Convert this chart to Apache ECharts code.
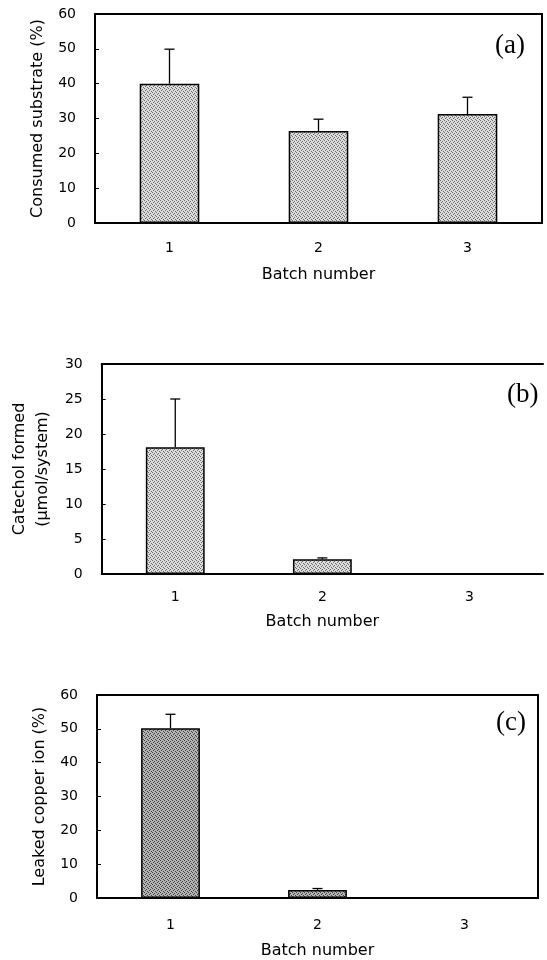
<!DOCTYPE html>
<html>
<head>
<meta charset="utf-8">
<script src="https://cdn.jsdelivr.net/npm/echarts@6/dist/echarts.min.js"></script>
<style>
html,body{margin:0;padding:0;background:#fff;}
#chart{width:547px;height:960px;}
</style>
</head>
<body>
<div id="chart"></div>
<script>
// ---- data ----
const categories = ['1', '2', '3'];
const consumedMean = [40.0, 26.4, 31.3];
const consumedUpper = [49.9, 29.8, 36.1];
const catecholMean = [18.1, 2.1, 0];
const catecholUpper = [25.0, 2.3, null];
const copperMean = [50.2, 2.4, 0];
const copperUpper = [54.3, 2.8, null];
const yMaxA = 60, yStepA = 10;
const yMaxB = 30, yStepB = 5;
const yMaxC = 60, yStepC = 10;

function makePattern(bg, dot) {
  const c = document.createElement('canvas');
  c.width = 4; c.height = 4;
  const g = c.getContext('2d');
  g.fillStyle = bg; g.fillRect(0, 0, 4, 4);
  g.fillStyle = dot;
  g.fillRect(0, 0, 1, 1); g.fillRect(2, 1, 1, 1);
  g.fillRect(1, 2, 1, 1); g.fillRect(3, 3, 1, 1);
  return { image: c, repeat: 'repeat' };
}
const lightFill = makePattern('#dcdcdc', '#6a6a6a');
const darkFill = makePattern('#b4b4b4', '#404040');

const font = 'DejaVu Sans';
const grids = [
  { left: 95, top: 14, width: 447, height: 209 },
  { left: 96, top: 364, width: 447, height: 210 },
  { left: 97, top: 695, width: 441, height: 204 }
];

function xAxes(gi, labelMargin, nameGap) {
  return [{
    type: 'category', gridIndex: gi, data: categories,
    axisLine: { onZero: false, lineStyle: { color: '#000', width: 2 } },
    axisTick: { show: false },
    axisLabel: { color: '#000', fontFamily: font, fontSize: 14, margin: labelMargin },
    name: 'Batch number', nameLocation: 'middle', nameGap: nameGap,
    nameTextStyle: { color: '#000', fontFamily: font, fontSize: 16 }
  }, {
    type: 'category', gridIndex: gi, data: categories, position: 'top',
    axisLine: { show: true, onZero: false, lineStyle: { color: '#000', width: 2 } },
    axisTick: { show: false }, axisLabel: { show: false }
  }];
}
function yAxes(gi, max, step, name, nameGap, rightBorder, lh) {
  const axes = [{
    type: 'value', gridIndex: gi, min: 0, max: max, interval: step,
    axisLine: { show: true, onZero: false, lineStyle: { color: '#000', width: 2 } },
    axisTick: { show: true, inside: true, length: 4, lineStyle: { color: '#000', width: 1 } },
    splitLine: { show: false },
    axisLabel: { color: '#000', fontFamily: font, fontSize: 14, margin: 19 },
    name: name, nameLocation: 'middle', nameGap: nameGap,
    nameTextStyle: { color: '#000', fontFamily: font, fontSize: 16, lineHeight: lh || 19 }
  }];
  if (rightBorder) {
    axes.push({
      type: 'value', gridIndex: gi, min: 0, max: max, interval: step, position: 'right',
      axisLine: { show: true, onZero: false, lineStyle: { color: '#000', width: 2 } },
      axisTick: { show: false }, axisLabel: { show: false }, splitLine: { show: false }
    });
  }
  return axes;
}

const xAxis = [].concat(xAxes(0, 18, 44), xAxes(1, 16, 40), xAxes(2, 20, 45));
const yA = yAxes(0, yMaxA, yStepA, 'Consumed substrate (%)', 46, true);
const yB = yAxes(1, yMaxB, yStepB, 'Catechol formed\n(\u03bcmol/system)', 46, false, 23);
const yC = yAxes(2, yMaxC, yStepC, 'Leaked copper ion (%)', 46, true);
const yAxis = [].concat(yA, yB, yC);
// yAxis indices: grid0 -> 0 (1 right), grid1 -> 2, grid2 -> 3 (4 right)
const yIdx = [0, 2, 3];
const xIdx = [0, 2, 4];

function barSeries(gi, data, fill) {
  return {
    type: 'bar', xAxisIndex: xIdx[gi], yAxisIndex: yIdx[gi], data: data,
    barWidth: '40%', silent: true,
    itemStyle: { color: fill, borderColor: '#000', borderWidth: 1.5 }
  };
}
function errSeries(gi, mean, upper) {
  return {
    type: 'custom', xAxisIndex: xIdx[gi], yAxisIndex: yIdx[gi], silent: true, z: 1,
    data: categories.map((c, i) => [i, mean[i], upper[i] == null ? mean[i] : upper[i]]),
    encode: { x: 0, y: [1, 2] },
    renderItem: function (params, api) {
      const p0 = api.coord([api.value(0), api.value(1)]);
      const p1 = api.coord([api.value(0), api.value(2)]);
      if (p0[1] - p1[1] < 0.5) return null;
      const st = { stroke: '#000', lineWidth: 1.3 };
      return {
        type: 'group', children: [
          { type: 'line', shape: { x1: p0[0], y1: p0[1], x2: p1[0], y2: p1[1] }, style: st },
          { type: 'line', shape: { x1: p1[0] - 5, y1: p1[1], x2: p1[0] + 5, y2: p1[1] }, style: st }
        ]
      };
    }
  };
}

const letterStyle = { fontFamily: 'Liberation Serif', fontSize: 27, fontWeight: 'normal', color: '#000' };
const option = {
  backgroundColor: '#fff',
  animation: false,
  title: [
    { text: '(a)', left: 495, top: 32, padding: 0, textStyle: letterStyle },
    { text: '(b)', left: 507, top: 381, padding: 0, textStyle: letterStyle },
    { text: '(c)', left: 496, top: 709, padding: 0, textStyle: letterStyle }
  ],
  grid: grids,
  xAxis: xAxis,
  yAxis: yAxis,
  series: [
    barSeries(0, consumedMean, lightFill), errSeries(0, consumedMean, consumedUpper),
    barSeries(1, catecholMean, lightFill), errSeries(1, catecholMean, catecholUpper),
    barSeries(2, copperMean, darkFill), errSeries(2, copperMean, copperUpper)
  ]
};
const chart = echarts.init(document.getElementById('chart'), null, { renderer: 'canvas' });
chart.setOption(option);
</script>
</body>
</html>
